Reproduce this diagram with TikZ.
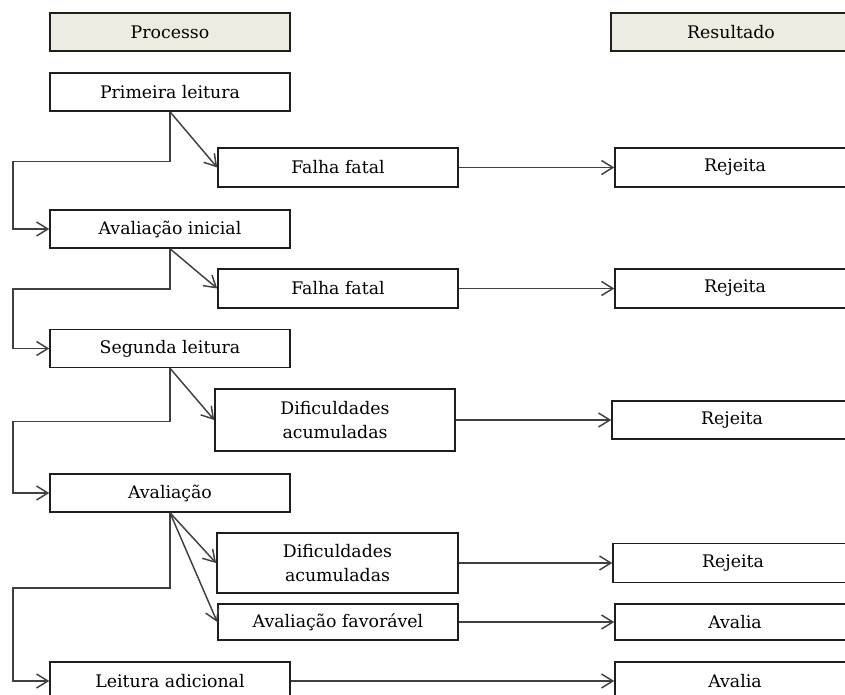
\documentclass[tikz,border=0pt]{standalone}
\usepackage{fontspec}
\setmainfont{DejaVu Serif}
\usetikzlibrary{arrows.meta}
\definecolor{hdrfill}{RGB}{238,235,224}
\definecolor{edge}{RGB}{30,30,30}
\tikzset{
  box/.style={draw=edge, line width=1.15pt, inner sep=0pt, align=center,
    minimum width=180pt, minimum height=28.5pt, font=\fontsize{13}{17.5}\selectfont, text=black},
  hdr/.style={box, fill=hdrfill},
  arr/.style={draw=edge!85, line width=1.1pt, -{Straight Barb[length=8.5pt,width=10.5pt,line width=1.1pt]}}
}
\begin{document}
\begin{tikzpicture}[x=0.75pt,y=-0.75pt]
\useasboundingbox (0,0) rectangle (845,695);
% headers
\node[hdr] (proc) at (170,32) {Processo};
\node[hdr] (res) at (731,32) {Resultado};
% process column
\node[box] (p1) at (170,92) {Primeira leitura};
\node[box] (a1) at (170,229) {Avaliação inicial};
\node[box] (s2) at (170,348.5) {Segunda leitura};
\node[box] (av) at (170,493) {Avaliação};
\node[box] (la) at (170,681) {Leitura adicional};
% middle column
\node[box, minimum height=29.25pt] (f1) at (338,167.5) {Falha fatal};
\node[box, minimum height=29.25pt] (f2) at (338,288.5) {Falha fatal};
\node[box, minimum height=46.5pt] (d1) at (335,420) {Dificuldades\\acumuladas};
\node[box, minimum height=45pt, minimum width=181pt] (d2) at (337.5,563) {Dificuldades\\acumuladas};
\node[box, minimum height=27pt] (af) at (338,622) {Avaliação favorável};
% result column
\node[box, minimum height=29.25pt] (r1) at (735,167.5) {Rejeita};
\node[box, minimum height=29.25pt] (r2) at (735,288.5) {Rejeita};
\node[box] (r3) at (732,420) {Rejeita};
\node[box, minimum height=29.25pt] (r4) at (733,563) {Rejeita};
\node[box, minimum height=27pt] (r5) at (735,622) {Avalia};
\node[box] (r6) at (735,681) {Avalia};
% diagonal arrows
\draw[arr] (p1.south) -- (f1.west);
\draw[arr] (a1.south) -- (f2.west);
\draw[arr] (s2.south) -- (d1.west);
\draw[arr] (av.south) -- (d2.west);
\draw[arr] (av.south) -- (af.west);
% loops back
\draw[arr] (p1.south) -- ++(0,50) -- ++(-157,0) |- (a1.west);
\draw[arr] (a1.south) -- ++(0,40) -- ++(-157,0) |- (s2.west);
\draw[arr] (s2.south) -- ++(0,53) -- ++(-157,0) |- (av.west);
\draw[arr] (av.south) -- ++(0,75) -- ++(-157,0) |- (la.west);
% results
\draw[arr] (f1.east) -- (r1.west);
\draw[arr] (f2.east) -- (r2.west);
\draw[arr] (d1.east) -- (r3.west);
\draw[arr] (d2.east) -- (r4.west);
\draw[arr] (af.east) -- (r5.west);
\draw[arr] (la.east) -- (r6.west);
\end{tikzpicture}
\end{document}
